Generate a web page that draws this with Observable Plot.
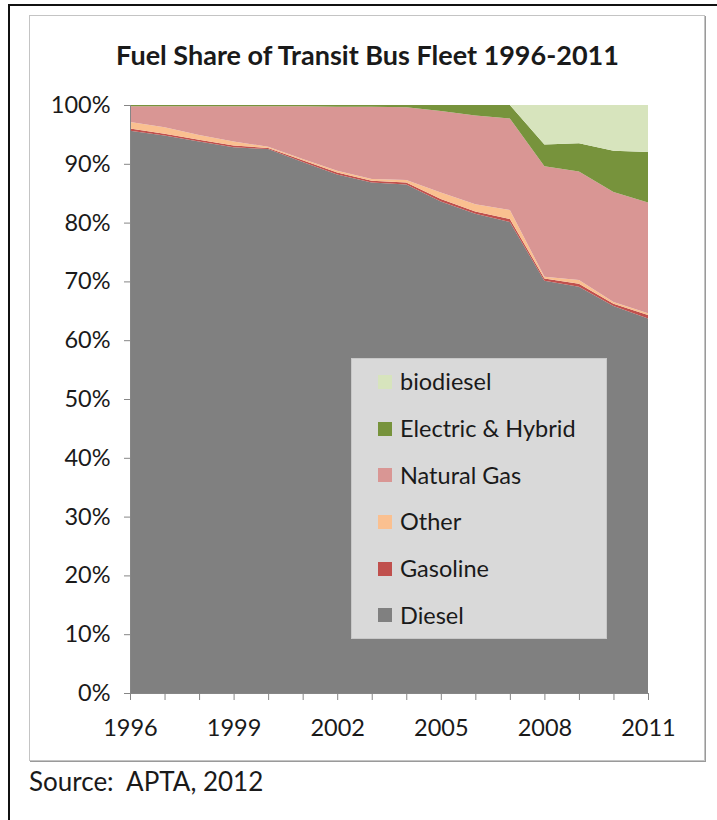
<!DOCTYPE html>
<html>
<head>
<meta charset="utf-8">
<script src="https://cdn.jsdelivr.net/npm/d3@7"></script>
<script src="https://cdn.jsdelivr.net/npm/@observablehq/plot@0.6"></script>
<style>
  html, body { margin: 0; padding: 0; background: #fff; }
  body { width: 717px; height: 820px; position: relative; overflow: hidden; font-family: Lato, "Open Sans", sans-serif; color: #1a1a1a; }
  #outer { position: absolute; left: 8px; top: 4px; width: 740px; height: 840px; border: 2px solid #111; box-sizing: border-box; }
  #box { position: absolute; left: 29px; top: 15px; width: 676px; height: 746px; border: 1px solid #c4c4c4; box-shadow: 1px 1px 0 #9a9a9a; box-sizing: border-box; }
  #title { position: absolute; left: 0; width: 735px; top: 39px; text-align: center; font-weight: bold; font-size: 27px; line-height: 1.2; }
  #chart { position: absolute; left: 0; top: 80px; }
  #legend { position: absolute; left: 351px; top: 358px; width: 256px; height: 281px; background: #d9d9d9; border: 1px solid #c8c8c8; box-sizing: border-box; }
  .sw { position: absolute; left: 26px; width: 14px; height: 14px; }
  .lab { position: absolute; left: 48px; font-size: 23.5px; line-height: 28px; white-space: nowrap; }
  #source { position: absolute; left: 29px; top: 766px; font-size: 26px; line-height: 1.2; }
</style>
</head>
<body>
<div id="outer"></div>
<div id="box"></div>
<div id="title">Fuel Share of Transit Bus Fleet 1996-2011</div>
<div id="chart"></div>
<div id="legend"></div>
<div id="source">Source:&nbsp; APTA, 2012</div>
<script>
const years = [1996, 1997, 1998, 1999, 2000, 2001, 2002, 2003, 2004, 2005, 2006, 2007, 2008, 2009, 2010, 2011];
const diesel     = [95.6, 94.8, 93.8, 92.8, 92.5, 90.3, 88.2, 86.8, 86.5, 83.6, 81.5, 80.1, 70.1, 69.1, 65.8, 63.7];
const gasoline   = [0.4, 0.3, 0.3, 0.3, 0.2, 0.3, 0.3, 0.3, 0.3, 0.4, 0.4, 0.5, 0.4, 0.5, 0.4, 0.6];
const other      = [1.1, 1.1, 0.8, 0.7, 0.2, 0.2, 0.3, 0.3, 0.45, 1.1, 1.2, 1.55, 0.3, 0.65, 0.3, 0.3];
const naturalGas = [2.7, 3.6, 4.9, 6.0, 6.9, 9.0, 10.9, 12.3, 12.35, 13.9, 15.1, 15.55, 18.8, 18.45, 18.7, 18.8];
const electric   = [0.2, 0.2, 0.2, 0.2, 0.2, 0.2, 0.3, 0.3, 0.4, 1.0, 1.8, 2.3, 3.7, 4.8, 7.0, 8.6];
const biodiesel  = [0, 0, 0, 0, 0, 0, 0, 0, 0, 0, 0, 0, 6.7, 6.5, 7.8, 8.0];

const fuels = ["Diesel", "Gasoline", "Other", "Natural Gas", "Electric & Hybrid", "biodiesel"];
const colors = ["#808080", "#c0504d", "#fac090", "#d99694", "#77933c", "#d7e4bd"];
const xTickLabels = [1996, 1999, 2002, 2005, 2008, 2011];
const yTicks = [0, 0.1, 0.2, 0.3, 0.4, 0.5, 0.6, 0.7, 0.8, 0.9, 1.0];

const series = [diesel, gasoline, other, naturalGas, electric, biodiesel];
const data = [];
fuels.forEach((f, i) => years.forEach((yr, j) => data.push({year: yr, fuel: f, value: series[i][j]})));

const chart = Plot.plot({
  width: 717,
  height: 670,
  marginTop: 25,
  marginBottom: 57,
  marginLeft: 130,
  marginRight: 69,
  style: {fontFamily: "Lato, 'Open Sans', sans-serif", fontSize: "23px", color: "#1a1a1a", background: "transparent"},
  x: {domain: [1996, 2011]},
  y: {domain: [0, 1]},
  color: {domain: fuels, range: colors},
  marks: [
    Plot.areaY(data, {x: "year", y: "value", fill: "fuel", offset: "normalize", order: fuels}),
    Plot.ruleX([1996], {stroke: "#868686"}),
    Plot.ruleY([0], {stroke: "#868686"}),
    Plot.axisY({ticks: yTicks, tickFormat: d3.format(".0%"), tickSize: 6, stroke: "#868686", tickPadding: 14, label: null, fill: "#1a1a1a", fontSize: 23.5}),
    Plot.axisX({ticks: years, tickFormat: () => "", tickSize: 7, stroke: "#868686", label: null}),
    Plot.axisX({ticks: xTickLabels, tickFormat: d => String(d), tickSize: 0, tickPadding: 26, label: null, fill: "#1a1a1a", fontSize: 23.5})
  ]
});
document.getElementById("chart").appendChild(chart);

const legend = document.getElementById("legend");
const legendOrder = ["biodiesel", "Electric & Hybrid", "Natural Gas", "Other", "Gasoline", "Diesel"];
legendOrder.forEach((f, k) => {
  const c = 23 + k * 46.67;
  const sw = document.createElement("div");
  sw.className = "sw";
  sw.style.top = (c - 7) + "px";
  sw.style.background = colors[fuels.indexOf(f)];
  const lab = document.createElement("div");
  lab.className = "lab";
  lab.style.top = (c - 14.8) + "px";
  lab.textContent = f;
  legend.appendChild(sw);
  legend.appendChild(lab);
});
</script>
</body>
</html>
